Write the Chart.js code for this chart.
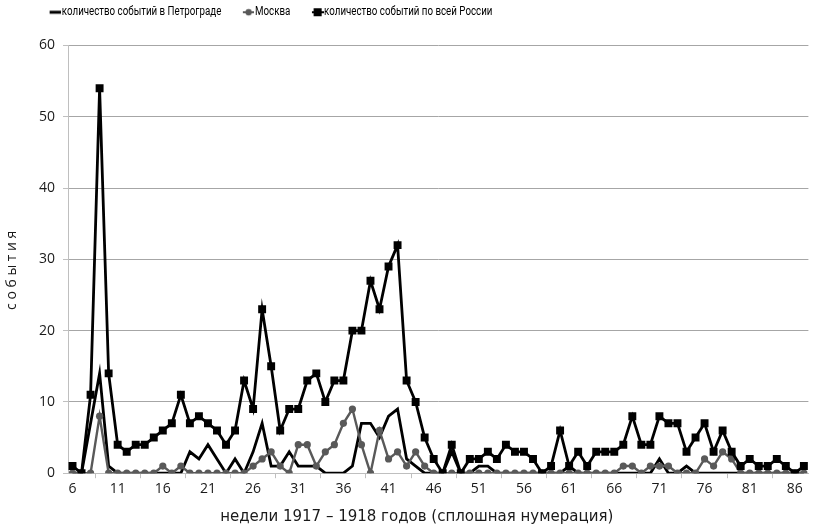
<!DOCTYPE html>
<html lang="ru">
<head>
<meta charset="UTF-8">
<title>События 1917–1918</title>
<script src="https://cdn.jsdelivr.net/npm/chart.js@4.4.1/dist/chart.umd.min.js"></script>
<style>
    html, body { margin: 0; padding: 0; background: #fff; }
</style>
</head>
<body>
<canvas id="chart" width="814" height="531"></canvas>
<script>
    // недели 1917 - 1918 (сплошная нумерация)
    const weeks = [6, 7, 8, 9, 10, 11, 12, 13, 14, 15, 16, 17, 18, 19, 20, 21, 22, 23, 24, 25,
        26, 27, 28, 29, 30, 31, 32, 33, 34, 35, 36, 37, 38, 39, 40, 41, 42, 43, 44, 45,
        46, 47, 48, 49, 50, 51, 52, 53, 54, 55, 56, 57, 58, 59, 60, 61, 62, 63, 64, 65,
        66, 67, 68, 69, 70, 71, 72, 73, 74, 75, 76, 77, 78, 79, 80, 81, 82, 83, 84, 85, 86, 87];
    const shownTicks = [6, 11, 16, 21, 26, 31, 36, 41, 46, 51, 56, 61, 66, 71, 76, 81, 86];
    const yTicks = [0, 10, 20, 30, 40, 50, 60];

    const petrograd = [0, 0, 7, 14, 1, 0, 0, 0, 0, 0, 0, 0, 0, 3, 2, 4, 2, 0, 2, 0,
        3, 7, 1, 1, 3, 1, 1, 1, 0, 0, 0, 1, 7, 7, 5, 8, 9, 2, 1, 0,
        0, 0, 3, 0, 0, 1, 1, 0, 0, 0, 0, 0, 0, 0, 0, 1, 0, 0, 0, 0,
        0, 0, 0, 0, 0, 2, 0, 0, 1, 0, 0, 0, 0, 0, 0, 0, 0, 0, 0, 0, 0, 0];
    const moscow = [0, 0, 0, 8, 0, 0, 0, 0, 0, 0, 1, 0, 1, 0, 0, 0, 0, 0, 0, 0,
        1, 2, 3, 1, 0, 4, 4, 1, 3, 4, 7, 9, 4, 0, 6, 2, 3, 1, 3, 1,
        0, 0, 0, 0, 0, 0, 0, 0, 0, 0, 0, 0, 0, 0, 0, 0, 0, 0, 0, 0,
        0, 1, 1, 0, 1, 1, 1, 0, 0, 0, 2, 1, 3, 2, 0, 0, 0, 0, 0, 0, 0, 0];
    const russia = [1, 0, 11, 54, 14, 4, 3, 4, 4, 5, 6, 7, 11, 7, 8, 7, 6, 4, 6, 13,
        9, 23, 15, 6, 9, 9, 13, 14, 10, 13, 13, 20, 20, 27, 23, 29, 32, 13, 10, 5,
        2, 0, 4, 0, 2, 2, 3, 2, 4, 3, 3, 2, 0, 1, 6, 1, 3, 1, 3, 3,
        3, 4, 8, 4, 4, 8, 7, 7, 3, 5, 7, 3, 6, 3, 1, 2, 1, 1, 2, 1, 0, 1];

    const gridColor = '#a6a6a6';
    const axisColor = '#bfbfbf';
    const textColor = '#1a1a1a';

    // легенда рисуется сжатой по горизонтали (узкий шрифт, как в оригинале)
    const legendSqueeze = 0.78;
    const legendShift = 25;

    // значок легенды: линия с маркером, прижат к правому краю (ближе к тексту)
    function legendIcon(kind, color) {
        const k = 1 / legendSqueeze;
        const c = document.createElement('canvas');
        c.width = 42;
        c.height = 10;
        const g = c.getContext('2d');
        g.strokeStyle = color;
        g.fillStyle = color;
        g.lineWidth = kind === 'line' ? 3 : 2;
        g.beginPath();
        g.moveTo(27, 5);
        g.lineTo(42, 5);
        g.stroke();
        if (kind === 'circle') {
            g.beginPath();
            g.ellipse(34.5, 5, 3.2 * k, 3.2, 0, 0, Math.PI * 2);
            g.fill();
        }
        if (kind === 'square') {
            g.fillRect(34.5 - 4 * k, 1, 8 * k, 8);
        }
        return c;
    }
    const icons = [legendIcon('line', '#000'), legendIcon('circle', '#595959'), legendIcon('square', '#000')];

    // отступ под легендой и её сдвиг/сжатие
    const legendPlacement = {
        id: 'legendPlacement',
        beforeLayout(chart) {
            const lg = chart.legend;
            if (lg && !lg._patched) {
                const fit = lg.fit;
                lg.fit = function () {
                    fit.call(this);
                    this.height += 17;
                };
                const draw = lg.draw;
                lg.draw = function (area) {
                    const c = this.ctx;
                    c.save();
                    c.translate(legendShift, 0);
                    c.scale(legendSqueeze, 1);
                    draw.call(this, area);
                    c.restore();
                };
                lg._patched = true;
            }
        }
    };

    const ctx = document.getElementById('chart').getContext('2d');
    new Chart(ctx, {
        type: 'line',
        data: {
            labels: weeks,
            datasets: [
                {
                    label: 'количество событий в Петрограде',
                    data: petrograd,
                    borderColor: '#000',
                    backgroundColor: '#000',
                    borderWidth: 2.8,
                    pointRadius: 0,
                    order: 3
                },
                {
                    label: 'Москва',
                    data: moscow,
                    borderColor: '#595959',
                    backgroundColor: '#595959',
                    borderWidth: 2.4,
                    pointStyle: 'circle',
                    pointRadius: 3.6,
                    pointBorderWidth: 0,
                    order: 2
                },
                {
                    label: 'количество событий по всей России',
                    data: russia,
                    borderColor: '#000',
                    backgroundColor: '#000',
                    borderWidth: 2.8,
                    pointStyle: 'rect',
                    pointRadius: 5.6,
                    pointBorderWidth: 0,
                    order: 1
                }
            ]
        },
        plugins: [legendPlacement],
        options: {
            responsive: false,
            animation: false,
            layout: { padding: { top: 0, left: 4, right: 0, bottom: 5 } },
            plugins: {
                tooltip: { enabled: false },
                legend: {
                    position: 'top',
                    align: 'start',
                    labels: {
                        usePointStyle: true,
                        pointStyleWidth: 31,
                        padding: 6,
                        color: '#000',
                        font: { family: "Roboto, 'Open Sans', sans-serif", size: 12.5 },
                        generateLabels: chart => chart.data.datasets.map((ds, i) => ({
                            text: ds.label,
                            pointStyle: icons[i],
                            fillStyle: ds.borderColor,
                            strokeStyle: ds.borderColor,
                            lineWidth: 0,
                            fontColor: '#000',
                            hidden: false,
                            datasetIndex: i
                        }))
                    }
                }
            },
            scales: {
                x: {
                    type: 'category',
                    offset: true,
                    grid: {
                        offset: true,
                        drawOnChartArea: false,
                        drawTicks: true,
                        tickLength: 5,
                        color: axisColor
                    },
                    border: { color: axisColor },
                    ticks: {
                        autoSkip: false,
                        maxRotation: 0,
                        padding: 2,
                        color: textColor,
                        font: { family: "'Open Sans', sans-serif", size: 14 },
                        callback: (v, i) => shownTicks.includes(weeks[i]) ? String(weeks[i]) : null
                    },
                    title: {
                        display: true,
                        // хвостовые пробелы сдвигают подпись левее, как в оригинале
                        text: 'недели 1917 – 1918 годов (сплошная нумерация)\u00a0\u00a0\u00a0\u00a0\u00a0\u00a0\u00a0\u00a0\u00a0',
                        color: textColor,
                        font: { family: "'DejaVu Sans', sans-serif", size: 15 },
                        padding: { top: 9, bottom: 0 }
                    }
                },
                y: {
                    min: 0,
                    max: 60,
                    afterBuildTicks: scale => { scale.ticks = yTicks.map(v => ({ value: v })); },
                    grid: {
                        color: gridColor,
                        tickLength: 5,
                        tickColor: axisColor
                    },
                    border: { display: true, color: axisColor },
                    ticks: {
                        padding: 8,
                        color: textColor,
                        font: { family: "'Open Sans', sans-serif", size: 14 }
                    },
                    title: {
                        display: true,
                        text: 'с о б ы т и я\u00a0\u00a0\u00a0\u00a0\u00a0\u00a0',
                        color: textColor,
                        font: { family: "'Open Sans', sans-serif", size: 14 },
                        padding: { top: 0, bottom: 4 }
                    },
                    afterFit: scale => { scale.width = 64; }
                }
            }
        }
    });
</script>
</body>
</html>
